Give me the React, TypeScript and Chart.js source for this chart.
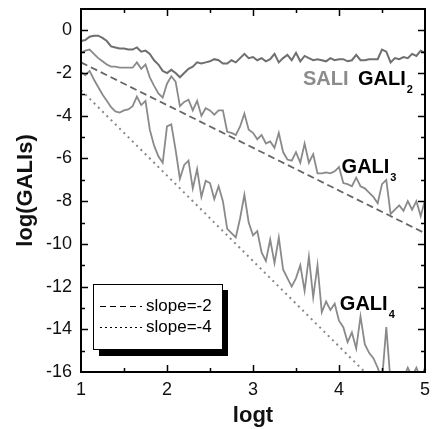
import React, { useEffect, useRef } from 'react';
import { Chart, registerables } from 'chart.js';
Chart.register(...registerables);

const FONT = '"Liberation Sans", Arial, Helvetica, sans-serif';

const logt = [
  1.00, 1.05, 1.10, 1.15, 1.20, 1.25, 1.30, 1.35, 1.40, 1.45,
  1.50, 1.55, 1.60, 1.65, 1.70, 1.75, 1.80, 1.85, 1.90, 1.95,
  2.00, 2.05, 2.10, 2.15, 2.20, 2.25, 2.30, 2.35, 2.40, 2.45,
  2.50, 2.55, 2.60, 2.65, 2.70, 2.75, 2.80, 2.85, 2.90, 2.95,
  3.00, 3.05, 3.10, 3.15, 3.20, 3.25, 3.30, 3.35, 3.40, 3.45,
  3.50, 3.55, 3.60, 3.65, 3.70, 3.75, 3.80, 3.85, 3.90, 3.95,
  4.00, 4.05, 4.10, 4.15, 4.20, 4.25, 4.30, 4.35, 4.40, 4.45,
  4.50, 4.55, 4.60, 4.65, 4.70, 4.75, 4.80, 4.85, 4.90, 4.95, 5.00,
];

const sali = [
  -0.5, -0.45, -0.3, -0.25, -0.25, -0.35, -0.5, -0.75, -0.8, -0.85,
  -0.85, -0.9, -0.9, -0.8, -1.0, -0.95, -1.1, -1.4, -1.6, -1.9,
  -2.0, -1.85, -2.0, -2.2, -2.0, -1.8, -1.7, -1.5, -1.55, -1.5,
  -1.45, -1.35, -1.4, -1.55, -1.55, -1.4, -1.5, -1.3, -1.1, -1.3,
  -1.25, -1.4, -1.3, -1.45, -1.35, -1.1, -1.5, -1.3, -1.15, -1.4,
  -1.05, -1.45, -1.2, -1.3, -1.4, -1.35, -1.4, -1.45, -1.3, -1.4,
  -1.35, -1.35, -1.45, -1.4, -1.15, -1.4, -1.4, -1.35, -1.35, -1.35,
  -0.9, -1.0, -1.5, -1.3, -1.35, -1.25, -1.3, -1.1, -1.2, -0.95, -1.05,
];

const gali3 = [
  -1.05, -0.95, -0.9, -1.1, -1.3, -1.45, -1.6, -1.7, -1.7, -1.75,
  -1.75, -1.75, -1.75, -1.5, -1.8, -1.6, -2.2, -2.6, -2.95, -3.15,
  -2.5, -2.15, -2.4, -3.55, -3.35, -3.25, -3.75, -3.3, -4.0, -3.65,
  -3.75, -3.95, -3.75, -3.75, -4.75, -4.8, -4.9, -4.5, -3.9, -4.65,
  -4.8, -5.1, -4.9, -5.3, -5.2, -5.5, -4.8, -5.7, -6.05, -6.1,
  -5.7, -6.2, -5.3, -6.2, -5.8, -6.7, -6.7, -6.65, -6.7, -6.6,
  -6.4, -7.15, -7.2, -7.3, -6.9, -7.3, -7.4, -7.6, -7.8, -8.1,
  -7.2, -7.0, -8.6, -8.4, -8.2, -8.45, -8.0, -8.4, -8.0, -8.7, -7.95,
];

const gali4 = [
  -1.95, -2.1, -1.9, -2.3, -2.65, -3.0, -3.3, -3.6, -3.8, -3.85,
  -3.75, -3.7, -3.55, -3.1, -3.5, -3.3, -4.65, -5.4, -5.9, -6.2,
  -4.5, -4.4, -5.6, -6.95, -6.3, -6.1, -7.4, -6.5, -7.8, -7.05,
  -7.15, -7.9, -7.3, -8.0, -9.3, -9.5, -9.7, -8.8, -7.7, -9.0,
  -9.6, -9.4, -10.4, -10.8, -9.8, -10.9, -9.7, -11.2, -11.6, -12.0,
  -11.6, -11.0, -12.2, -10.6, -12.5, -11.0, -13.2, -12.7, -13.1, -12.8,
  -13.6, -13.9, -14.6, -14.15, -14.9, -13.4, -14.7, -15.1, -15.35, -15.8,
  -16.4, -13.9, -16.5, -17.0, -16.5, -16.3, -15.8, -16.2, -15.8, -16.3, -15.8,
];

const slopeX = [1, 5];
const slope2 = [-1.5, -9.5];
const slope4 = [-2.8, -18.8];

const xTickLabels = ['1', '2', '3', '4', '5'];
const yTickLabels = ['-16', '-14', '-12', '-10', '-8', '-6', '-4', '-2', '0'];

const curveLabels = [
  { text: 'SALI', sub: '', x: 3.58, y: -2.56, color: '#8c8c8c' },
  { text: 'GALI', sub: '2', x: 4.22, y: -2.56, color: '#000' },
  { text: 'GALI', sub: '3', x: 4.03, y: -6.68, color: '#000' },
  { text: 'GALI', sub: '4', x: 4.01, y: -13.1, color: '#000' },
];

const legendItems = [
  { label: 'slope=-2', dash: [6, 4] },
  { label: 'slope=-4', dash: [2, 3] },
];

const pts = (xs: number[], ys: number[]) => xs.map((x, i) => ({ x, y: ys[i] }));

const decorPlugin = {
  id: 'decor',
  afterDatasetsDraw(chart: any) {
    const { ctx, chartArea: a, scales } = chart;
    const xs = scales.x;
    const ys = scales.y;
    ctx.save();
    ctx.strokeStyle = '#000';
    ctx.lineWidth = 2;
    ctx.strokeRect(a.left, a.top, a.right - a.left, a.bottom - a.top);
    ctx.lineWidth = 1.5;
    for (let v = 1.5; v < 5; v += 0.5) {
      const px = Math.round(xs.getPixelForValue(v)) + 0.5;
      const len = Number.isInteger(v) ? 7 : 4;
      ctx.beginPath();
      ctx.moveTo(px, a.bottom);
      ctx.lineTo(px, a.bottom - len);
      ctx.moveTo(px, a.top);
      ctx.lineTo(px, a.top + len);
      ctx.stroke();
    }
    for (let v = -15; v <= 0; v += 1) {
      const py = Math.round(ys.getPixelForValue(v)) + 0.5;
      const len = v % 2 === 0 ? 7 : 4;
      ctx.beginPath();
      ctx.moveTo(a.left, py);
      ctx.lineTo(a.left + len, py);
      ctx.moveTo(a.right, py);
      ctx.lineTo(a.right - len, py);
      ctx.stroke();
    }
    ctx.textBaseline = 'alphabetic';
    ctx.textAlign = 'left';
    curveLabels.forEach((l) => {
      const px = xs.getPixelForValue(l.x);
      const py = ys.getPixelForValue(l.y);
      ctx.fillStyle = l.color;
      ctx.font = `bold 20px ${FONT}`;
      ctx.fillText(l.text, px, py);
      if (l.sub) {
        const w = ctx.measureText(l.text).width;
        ctx.font = `bold 11px ${FONT}`;
        ctx.fillText(l.sub, px + w + 1, py + 8);
      }
    });
    const bx = 93, by = 284, bw = 129, bh = 65;
    ctx.fillStyle = '#000';
    ctx.fillRect(bx + 6, by + 6, bw, bh + 1);
    ctx.fillStyle = '#fff';
    ctx.fillRect(bx, by, bw, bh);
    ctx.strokeStyle = '#000';
    ctx.lineWidth = 1;
    ctx.strokeRect(bx + 0.5, by + 0.5, bw, bh);
    legendItems.forEach((it, i) => {
      const y = by + 22 + i * 21;
      ctx.strokeStyle = '#000';
      ctx.lineWidth = 1.2;
      ctx.setLineDash(it.dash);
      ctx.beginPath();
      ctx.moveTo(bx + 7, y + 0.5);
      ctx.lineTo(bx + 49, y + 0.5);
      ctx.stroke();
      ctx.setLineDash([]);
      ctx.fillStyle = '#000';
      ctx.font = `17px ${FONT}`;
      ctx.textBaseline = 'middle';
      ctx.fillText(it.label, bx + 53, y);
    });
    ctx.restore();
  },
};

export default function App() {
  const ref = useRef<HTMLCanvasElement | null>(null);
  useEffect(() => {
    document.body.style.margin = '0';
    const canvas = ref.current;
    if (!canvas) return;
    const chart = new Chart(canvas, {
      type: 'line',
      data: {
        datasets: [
          { label: 'SALI', data: pts(logt, sali), borderColor: '#6f6f6f', borderWidth: 2, pointRadius: 0, tension: 0 },
          { label: 'GALI3', data: pts(logt, gali3), borderColor: '#8a8a8a', borderWidth: 1.8, pointRadius: 0, tension: 0 },
          { label: 'GALI4', data: pts(logt, gali4), borderColor: '#8a8a8a', borderWidth: 1.8, pointRadius: 0, tension: 0 },
          { label: 'slope=-2', data: pts(slopeX, slope2), borderColor: '#666', borderWidth: 1.8, borderDash: [7, 4], pointRadius: 0 },
          { label: 'slope=-4', data: pts(slopeX, slope4), borderColor: '#888', borderWidth: 2, borderDash: [2, 4], pointRadius: 0 },
        ],
      },
      options: {
        animation: false,
        responsive: false,
        layout: { padding: { top: 9, right: 8, left: 0, bottom: 0 } },
        plugins: { legend: { display: false }, tooltip: { enabled: false } },
        scales: {
          x: {
            type: 'linear',
            min: 1,
            max: 5,
            grid: { display: false, drawTicks: false },
            border: { display: false },
            ticks: {
              stepSize: 0.5,
              autoSkip: false,
              minRotation: 0,
              maxRotation: 0,
              padding: 7,
              color: '#111',
              font: { family: FONT, size: 18 },
              callback: (v: any) => (xTickLabels.includes(String(v)) ? String(v) : ''),
            },
            title: { display: true, text: 'logt', color: '#111', font: { family: FONT, size: 22, weight: 'bold' }, padding: 0 },
            afterFit: (s: any) => { s.height = 57; s.paddingLeft = 0; s.paddingRight = 0; },
          },
          y: {
            type: 'linear',
            min: -16,
            max: 1,
            grid: { display: false, drawTicks: false },
            border: { display: false },
            ticks: {
              stepSize: 1,
              autoSkip: false,
              minRotation: 0,
              maxRotation: 0,
              padding: 9,
              color: '#111',
              font: { family: FONT, size: 18 },
              callback: (v: any) => (yTickLabels.includes(String(v)) ? String(v) : ''),
            },
            title: { display: true, text: 'log(GALIs)', color: '#111', font: { family: FONT, size: 22, weight: 'bold' }, padding: { top: 13, bottom: 0 } },
            afterFit: (s: any) => { s.width = 81; s.paddingTop = 0; s.paddingBottom = 0; },
          },
        },
      } as any,
      plugins: [decorPlugin],
    });
    return () => chart.destroy();
  }, []);
  return (
    <div style={{ width: 433, height: 429, background: '#fff' }}>
      <canvas ref={ref} width={433} height={429} style={{ display: 'block' }} />
    </div>
  );
}
